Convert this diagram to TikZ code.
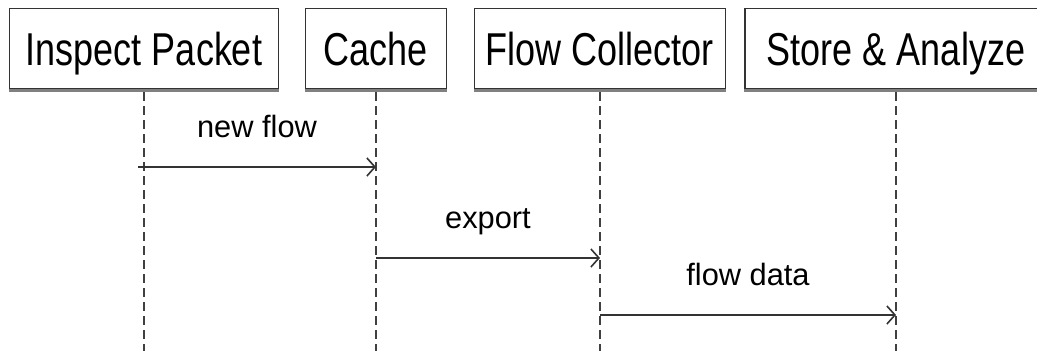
\documentclass[tikz,border=0pt]{standalone}
\usepackage{fontspec}
\setmainfont{Liberation Sans}
\usetikzlibrary{arrows.meta}
\begin{document}
\begin{tikzpicture}[x=1pt,y=-1pt,
  actor/.style={draw=black!80, line width=1.7pt, fill=white, inner sep=0pt,
    minimum height=80pt, text height=33pt, text depth=0pt, font=\fontsize{36}{40}\selectfont},
  shade/.style={draw=black!50, line width=3.5pt},
  life/.style={draw=black!75, line width=2.2pt, dash pattern=on 9pt off 5pt},
  msg/.style={draw=black!80, line width=2.2pt,
    -{Straight Barb[length=8pt,width=18pt,line width=1.6pt]}},
  lbl/.style={font=\fontsize{30.8}{34}\selectfont, inner sep=0pt, anchor=base, yshift=30pt}]
\useasboundingbox (0,0) rectangle (1037,351);
\clip (0,0) rectangle (1037,351);
\fill[white] (0,0) rectangle (1037,351);
% actors
\node[actor, minimum width=269pt] (ip) at (144,48.5) {\scalebox{1}[1.28]{Inspect Packet}};
\node[actor, minimum width=141pt] (ca) at (376,48.5) {\scalebox{1}[1.28]{Cache}};
\node[actor, minimum width=251pt] (fc) at (600,48.5) {\scalebox{1}[1.28]{Flow Collector}};
\node[actor, minimum width=302pt] (sa) at (896,48.5) {\scalebox{1}[1.28]{Store \& Analyze}};
\foreach \n in {ip,ca,fc,sa}{
  \draw[shade] ([yshift=-1pt]\n.south west) -- ([yshift=-1pt]\n.south east);
}
% bottom and message rows
\coordinate (bot) at (0,356);
\coordinate (r1) at (0,167);
\coordinate (r2) at (0,258);
\coordinate (r3) at (0,315);
% lifelines
\foreach \n in {ip,ca,fc,sa}{
  \draw[life] ([yshift=-2.8pt]\n.south) -- (\n.south |- bot);
}
% messages
\draw[msg] ([xshift=-6pt]ip.south |- r1) -- node[lbl, midway] (l1) {new flow} (ca.south |- r1);
\draw[msg] (ca.south |- r2) -- node[lbl, midway] (l2) {export} (fc.south |- r2);
\draw[msg] (fc.south |- r3) -- node[lbl, midway] (l3) {flow data} (sa.south |- r3);
\end{tikzpicture}
\end{document}
